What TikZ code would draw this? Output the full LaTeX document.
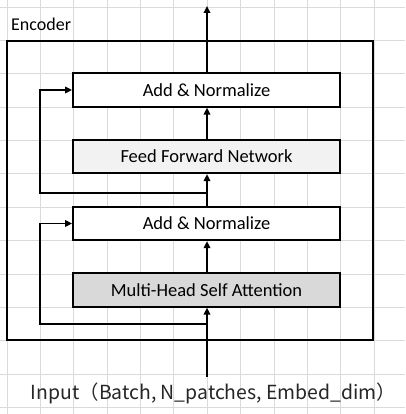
\documentclass[tikz,border=0pt]{standalone}
\usepackage{fontspec}
\setmainfont{Carlito}
\newfontfamily\cjkfont{Noto Sans CJK SC}
\usetikzlibrary{arrows.meta}
\definecolor{gridc}{RGB}{218,218,218}
\definecolor{ffnc}{RGB}{242,242,242}
\definecolor{mhsac}{RGB}{217,217,217}
\begin{document}
\begin{tikzpicture}[x=1pt,y=-1pt,
  blk/.style={draw=black, line width=1.8pt, minimum width=267pt, minimum height=33.5pt,
    inner sep=0pt, font=\fontsize{18.5}{20}\selectfont, fill=white},
  encbox/.style={draw=black, line width=1.8pt, minimum width=366pt, minimum height=299pt, inner sep=0pt},
  conn/.style={line width=1.8pt, -{Triangle[length=7pt,width=6.5pt]}},
  gridline/.style={draw=gridc, line width=0.9pt}
]
\useasboundingbox (0,0) rectangle (405,414);
\fill[white] (0,0) rectangle (405,414);
% grid
\foreach \k in {0,...,12} {
  \draw[gridline] (0,{7+33.37*\k}) -- (405,{7+33.37*\k});
}
\foreach \k in {0,...,12} {
  \draw[gridline] ({7+33.37*\k},0) -- ({7+33.37*\k},414);
}
% encoder
\node[encbox] (enc) at (190,190.5) {};
\node[anchor=base west, inner sep=0pt, font=\fontsize{18}{20}\selectfont] (enclabel) at (11,31) {Encoder};
% blocks
\node[blk] (an1) at (206.5,90) {Add \& Normalize};
\node[blk, fill=ffnc] (ffn) at (206.5,156.5) {Feed Forward Network};
\node[blk] (an2) at (206.5,223.5) {Add \& Normalize};
\node[blk, fill=mhsac] (mhsa) at (206.5,290) {Multi-Head Self Attention};
% coordinates
\coordinate (out) at (207,6);
\coordinate (in) at (207,377);
\coordinate (j1) at (207,324);
\coordinate (j2) at (207,193);
\coordinate (l1) at (40,324);
\coordinate (l2) at (40,193);
% connectors
\draw[conn] (an1.north -| out) -- (out);
\draw[conn] (ffn.north -| out) -- (an1.south -| out);
\draw[conn] (an2.north -| out) -- (ffn.south -| out);
\draw[conn] (mhsa.north -| out) -- (an2.south -| out);
\draw[conn] (in) -- (mhsa.south -| out);
\draw[conn] (j1) -- (l1) |- (an2.west);
\draw[conn] (j2) -- (l2) |- (an1.west);
% input label
\node[anchor=base, inner sep=0pt, text=black!85, font=\cjkfont\fontsize{19.4}{22}\selectfont] (inlabel) at (213.5,399) {Input（Batch, N\_patches, Embed\_dim）};
\end{tikzpicture}
\end{document}
